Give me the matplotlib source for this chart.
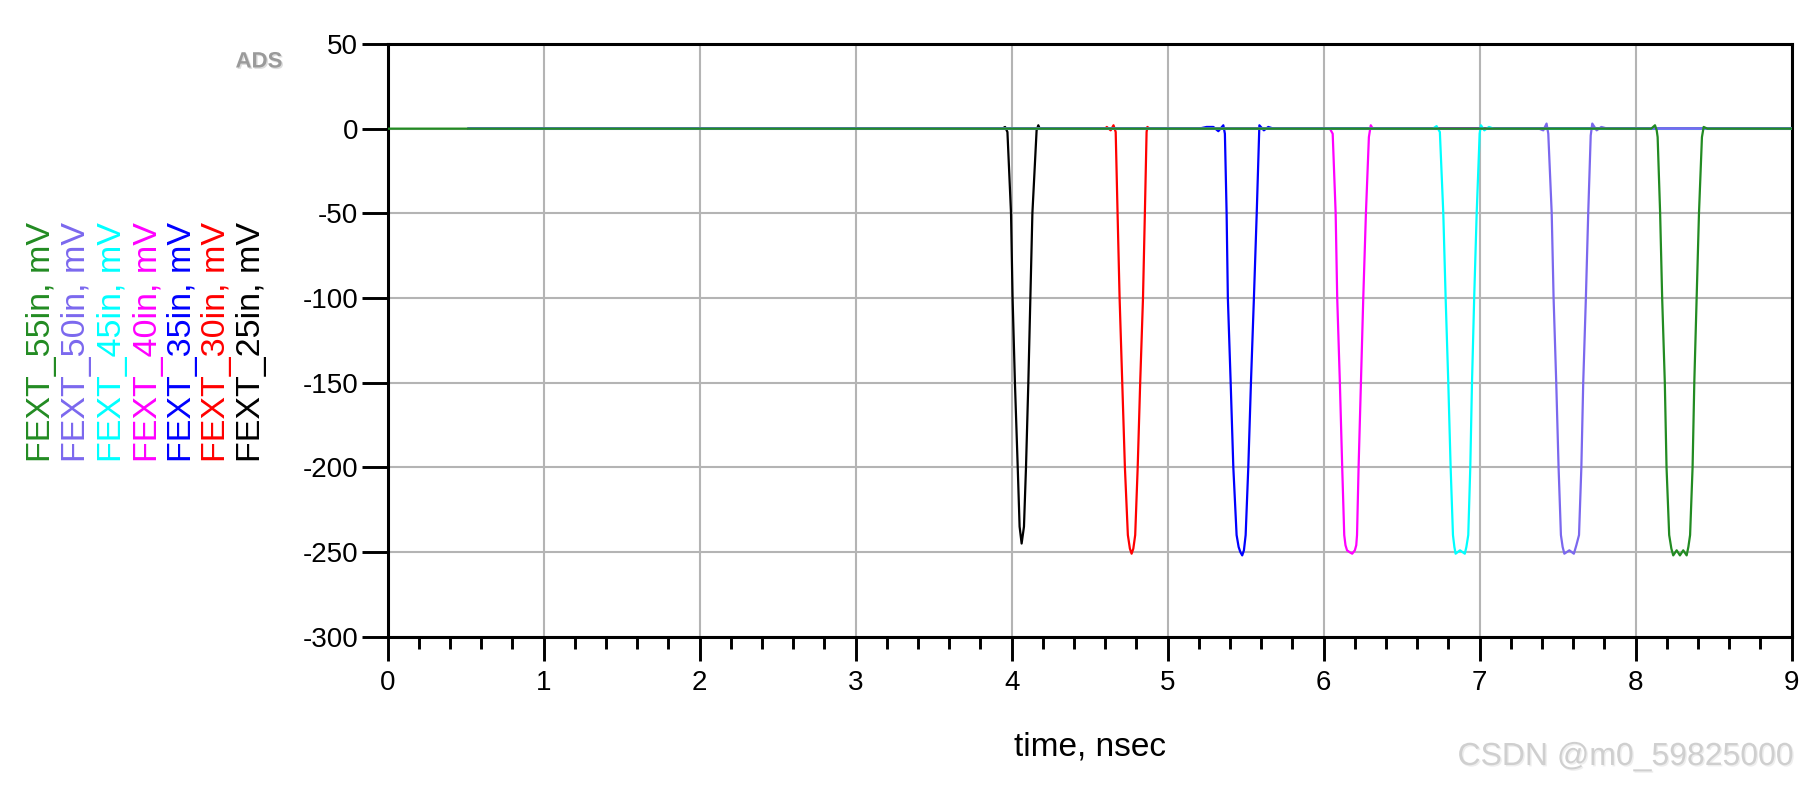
import matplotlib
matplotlib.use('Agg')
import matplotlib.pyplot as plt
import matplotlib.patheffects as pe

plt.rcParams['font.family'] = ['Liberation Sans', 'DejaVu Sans']

# FEXT traces (time in nsec, voltage in mV)
t_25in = [0.52, 3.94, 3.958, 3.973, 3.996, 4.006, 4.021, 4.039, 4.051, 4.064, 4.079, 4.092, 4.107, 4.120, 4.133, 4.160, 4.171, 4.180, 9.0]
v_25in = [0, 0, 1, -2, -50, -100, -150, -200, -235, -245, -235, -200, -150, -100, -50, -1, 2, 0, 0]

t_30in = [0.52, 4.60, 4.610, 4.635, 4.653, 4.667, 4.679, 4.692, 4.709, 4.726, 4.745, 4.758, 4.769, 4.780, 4.792, 4.808, 4.824, 4.842, 4.854, 4.865, 4.870, 4.885, 9.0]
v_30in = [0, 0, 1, -1, 2, -2, -50, -100, -150, -200, -240, -248, -251, -248, -240, -200, -150, -100, -50, -2, 1, 0, 0]

t_35in = [0.52, 5.20, 5.25, 5.293, 5.325, 5.357, 5.367, 5.378, 5.386, 5.404, 5.421, 5.442, 5.455, 5.466, 5.478, 5.489, 5.500, 5.517, 5.534, 5.553, 5.571, 5.588, 5.617, 5.645, 5.68, 9.0]
v_35in = [0, 0, 1, 1, -1.5, 2, -3, -50, -100, -150, -200, -240, -247, -250, -252, -249, -240, -200, -150, -100, -50, 2, -1, 1, 0, 0]

t_40in = [0.52, 6.04, 6.058, 6.077, 6.087, 6.104, 6.119, 6.132, 6.140, 6.150, 6.165, 6.183, 6.200, 6.209, 6.214, 6.224, 6.239, 6.254, 6.271, 6.290, 6.302, 6.315, 9.0]
v_40in = [0, 0, -3, -50, -100, -150, -200, -240, -246, -249, -250, -251, -249, -246, -240, -200, -150, -100, -50, -5, 2, 0, 0]

t_45in = [0.52, 6.70, 6.724, 6.745, 6.767, 6.782, 6.799, 6.814, 6.829, 6.838, 6.846, 6.874, 6.905, 6.915, 6.927, 6.940, 6.951, 6.965, 6.981, 7.000, 7.008, 7.03, 7.06, 7.09, 9.0]
v_45in = [0, 0, 1.5, -2, -50, -100, -150, -200, -240, -247, -251, -249, -251, -247, -240, -200, -150, -100, -50, -3, 2, -1, 1, 0, 0]

t_50in = [0.52, 7.38, 7.408, 7.429, 7.440, 7.462, 7.474, 7.491, 7.506, 7.521, 7.532, 7.543, 7.575, 7.604, 7.620, 7.637, 7.652, 7.664, 7.681, 7.696, 7.712, 7.722, 7.750, 7.780, 7.82, 9.0]
v_50in = [0, 0, -1, 3, -3, -50, -100, -150, -200, -240, -247, -251, -249, -251, -246, -240, -200, -150, -100, -50, -4, 3, -1, 1, 0, 0]

t_55in = [0.0, 8.10, 8.124, 8.135, 8.141, 8.157, 8.170, 8.187, 8.198, 8.215, 8.229, 8.241, 8.263, 8.284, 8.305, 8.327, 8.338, 8.349, 8.365, 8.376, 8.391, 8.406, 8.425, 8.436, 8.46, 9.0]
v_55in = [0, 0, 2, -1, -5, -50, -100, -150, -200, -240, -248, -252, -249, -252, -249, -252, -247, -240, -200, -150, -100, -50, -5, 1, 0, 0]

labels = ['FEXT_55in, mV', 'FEXT_50in, mV', 'FEXT_45in, mV', 'FEXT_40in, mV',
          'FEXT_35in, mV', 'FEXT_30in, mV', 'FEXT_25in, mV']
colors = ['#228B22', '#7B68EE', '#00FFFF', '#FF00FF', '#0000FF', '#FF0000', '#000000']
traces = [(t_55in, v_55in), (t_50in, v_50in), (t_45in, v_45in), (t_40in, v_40in),
          (t_35in, v_35in), (t_30in, v_30in), (t_25in, v_25in)]

xticks = list(range(0, 10))
yticks = list(range(-300, 51, 50))

fig = plt.figure(figsize=(18.03, 7.91), dpi=100)
ax = fig.add_axes([0.2150, 0.1951, 0.7787, 0.7493])

# draw 25in first so the green 55in trace ends up on top of the baseline
for (t, v), c in reversed(list(zip(traces, colors))):
    ax.plot(t, v, color=c, lw=1.6, zorder=3)

ax.set_xlim(0, 9)
ax.set_ylim(-300, 50)
ax.set_xticks(xticks)
ax.set_xticks([x / 5 for x in range(0, 46)], minor=True)
ax.set_yticks(yticks)
ax.set_yticklabels([str(y) for y in yticks])
ax.grid(True, which='major', color='#b4b4b4', lw=1.5, zorder=1)
ax.tick_params(axis='x', which='major', direction='out', length=17.3, width=2.1,
               labelsize=20, pad=7)
ax.tick_params(axis='x', which='minor', direction='out', length=8.6, width=2.1)
ax.tick_params(axis='y', which='major', direction='out', length=18.7, width=2.1,
               labelsize=20, pad=2.5)
for s in ax.spines.values():
    s.set_linewidth(2.2)
    s.set_color('black')

# ADS-style stacked vertical trace labels
xs = [41.7, 77, 113, 148, 183, 217, 252]
for x, lab, c in zip(xs, labels, colors):
    fig.text(x / 1803, 1 - 462 / 791, lab, color=c, rotation=90,
             ha='center', va='bottom', fontsize=24.5)

fig.text(1089.7 / 1803, 1 - 755 / 791, 'time, nsec', ha='center', va='baseline',
         fontsize=24)

fig.text(259 / 1803, 1 - 62 / 791, 'ADS', ha='center', va='center', fontsize=16,
         fontweight='bold', color='#9a9a9a',
         path_effects=[pe.withSimplePatchShadow(offset=(1, -1), shadow_rgbFace='#dddddd', alpha=1)])

fig.text(1794 / 1803, 1 - 757 / 791, 'CSDN @m0_59825000', ha='right', va='center',
         fontsize=23, color='#cfcfcf',
         path_effects=[pe.withSimplePatchShadow(offset=(1, -1), shadow_rgbFace='#eeeeee', alpha=1)])

fig.savefig('out.png', dpi=100)
